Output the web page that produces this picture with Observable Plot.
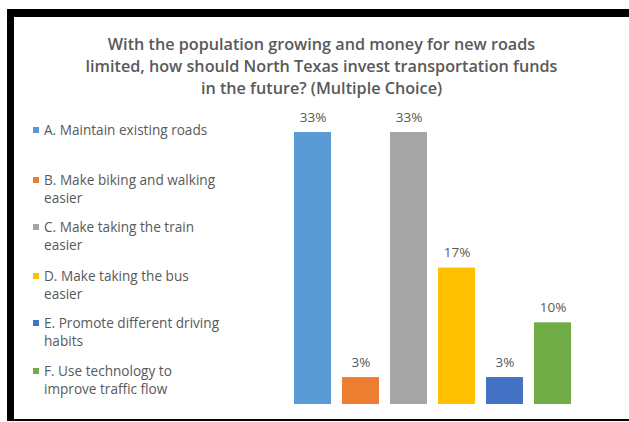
<!DOCTYPE html>
<html>
<head>
<meta charset="utf-8">
<script src="https://cdn.jsdelivr.net/npm/d3@7"></script>
<script src="https://cdn.jsdelivr.net/npm/@observablehq/plot@0.6"></script>
<style>
  html, body { margin: 0; padding: 0; background: #fff; }
  #page { position: relative; width: 629px; height: 422px; overflow: hidden; font-family: "Open Sans", sans-serif; color: #595959; }
  #frame { position: absolute; left: 7px; top: 9px; width: 622px; height: 412px; box-sizing: border-box;
           border-top: 8px solid #000; border-left: 7px solid #000; border-bottom: 2px solid #000; }
  #title { position: absolute; left: 14px; width: 615px; top: 33px; text-align: center; font-weight: 600;
           font-size: 16.2px; line-height: 22px; color: #595959; }
  .leg { position: absolute; left: 44px; font-size: 13.6px; line-height: 18px; color: #595959; }
  .sw { position: absolute; left: -11px; top: 6px; width: 6px; height: 6px; }
  #chart { position: absolute; left: 270px; top: 100px; }
</style>
</head>
<body>
<div id="page">
  <div id="frame"></div>
  <div id="title"></div>
  <div id="legend"></div>
  <div id="chart"></div>
</div>
<script>
const titleLines = [
  "With the population growing and money for new roads",
  "limited, how should North Texas invest transportation funds",
  "in the future? (Multiple Choice)"
];
const categories = ["A", "B", "C", "D", "E", "F"];
const legendLines = [
  ["A. Maintain existing roads"],
  ["B. Make biking and walking", "easier"],
  ["C. Make taking the train", "easier"],
  ["D. Make taking the bus", "easier"],
  ["E. Promote different driving", "habits"],
  ["F. Use technology to", "improve traffic flow"]
];
const values = [33.3, 3.3, 33.3, 16.7, 3.3, 10.0];
const valueLabels = ["33%", "3%", "33%", "17%", "3%", "10%"];
const colors = ["#5B9BD5", "#ED7D31", "#A5A5A5", "#FFC000", "#4472C4", "#70AD47"];
const legendTops = [121, 171, 218, 267, 314, 362];

document.getElementById("title").innerHTML = titleLines.join("<br>");

const legend = document.getElementById("legend");
legendLines.forEach((lines, i) => {
  lines.forEach((line, j) => {
    const div = document.createElement("div");
    div.className = "leg";
    div.style.top = (legendTops[i] + j * 17.5) + "px";
    div.textContent = line;
    if (j === 0) {
      const sw = document.createElement("span");
      sw.className = "sw";
      sw.style.background = colors[i];
      div.appendChild(sw);
    }
    legend.appendChild(div);
  });
});

const data = categories.map((c, i) => ({cat: c, value: values[i], label: valueLabels[i]}));

const chart = Plot.plot({
  width: 330,
  height: 320,
  marginLeft: 22,
  marginRight: 28,
  marginTop: 32,
  marginBottom: 16,
  style: {fontFamily: "Open Sans, sans-serif", background: "transparent"},
  x: {domain: categories, paddingInner: 0.23, paddingOuter: 0, axis: null},
  y: {domain: [0, 33.3], axis: null},
  color: {domain: categories, range: colors},
  marks: [
    Plot.barY(data, {x: "cat", y: "value", fill: "cat"}),
    Plot.text(data, {x: "cat", y: "value", text: "label", dy: -15, fill: "#595959", fontSize: 13.5})
  ]
});
document.getElementById("chart").appendChild(chart);
</script>
</body>
</html>
